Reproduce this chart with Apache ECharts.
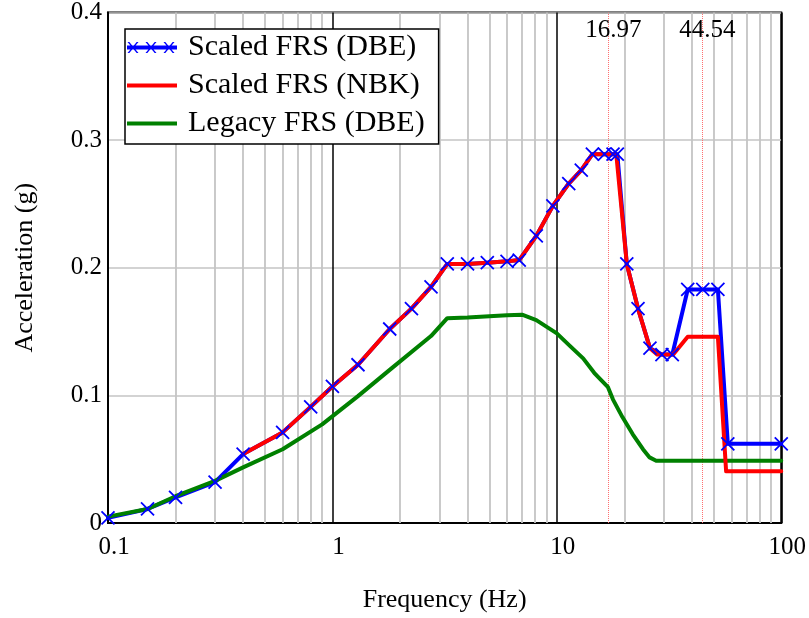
<!DOCTYPE html>
<html>
<head>
<meta charset="utf-8">
<script src="https://cdn.jsdelivr.net/npm/echarts@6/dist/echarts.min.js"></script>
<style>html,body{margin:0;padding:0;background:#fff}#c{width:809px;height:618px}</style>
</head>
<body>
<div id="c"></div>
<script>
// Scaled FRS (DBE)
const dbeFreq = [0.1,0.15,0.2,0.3,0.4,0.6,0.8,1.0,1.3,1.8,2.25,2.75,3.25,4.0,4.9,6.0,6.8,8.1,9.6,11.3,12.85,14.4,16.3,17.8,18.6,20.5,23,26,29.4,32.7,38.3,44.7,52.2,57.8,100];
const dbeAcc  = [0.004,0.011,0.020,0.032,0.054,0.071,0.091,0.107,0.124,0.152,0.168,0.185,0.203,0.203,0.204,0.205,0.206,0.225,0.2485,0.266,0.2765,0.289,0.289,0.289,0.289,0.203,0.168,0.137,0.132,0.132,0.183,0.183,0.183,0.062,0.062];
// Scaled FRS (NBK)
const nbkFreq = [0.4,0.6,0.8,1.0,1.3,1.8,2.25,2.75,3.25,4.0,4.9,6.0,6.8,8.1,9.6,11.3,12.85,14.4,18.4,20.5,23,26,28,33,38.3,52.2,56.8,100];
const nbkAcc  = [0.054,0.071,0.091,0.107,0.124,0.152,0.168,0.185,0.203,0.203,0.204,0.205,0.206,0.225,0.2485,0.266,0.2765,0.289,0.289,0.203,0.168,0.137,0.132,0.132,0.146,0.146,0.0405,0.0405];
// Legacy FRS (DBE)
const legFreq = [0.1,0.15,0.2,0.3,0.4,0.6,0.9,1.3,1.8,2.75,3.25,4,5,6,7,8.1,10,11.4,13.1,14.7,16.9,17.8,19.6,21.8,24.2,25.9,27.7,100];
const legAcc  = [0.005,0.011,0.021,0.033,0.0436,0.0578,0.0773,0.0994,0.120,0.1465,0.1605,0.161,0.162,0.1628,0.1632,0.159,0.1486,0.139,0.129,0.1175,0.1064,0.0967,0.083,0.0695,0.0578,0.0514,0.0488,0.0488];

const seriesNames = ['Scaled FRS (DBE)','Scaled FRS (NBK)','Legacy FRS (DBE)'];
const minorGridFreqs = [0.2,0.3,0.4,0.5,0.6,0.7,0.8,0.9,2,3,4,5,6,7,8,9,20,30,40,50,60,70,80,90];
const markerFreqs = [16.97, 44.54];
const markerLabels = ['16.97','44.54'];
const markerLabelAcc = 0.386;
const yTicks = [0,0.1,0.2,0.3,0.4];

const zip = (a,b) => a.map((v,i)=>[v,b[i]]);
const FONT = 'Liberation Serif';

// legend icons (box 0..50 x 0..12)
function xMark(cx){
  return `M${cx-5.5},0.5L${cx-3.7},0.5L${cx+5.5},11.5L${cx+3.7},11.5Z` +
         `M${cx+3.7},0.5L${cx+5.5},0.5L${cx-3.7},11.5L${cx-5.5},11.5Z`;
}
const boxPts = 'M0,0L0.01,0L0,0.01ZM0,12L0.01,12L0,11.99Z';
const lineIcon = 'path://' + boxPts + 'M0,4L50,4L50,8L0,8Z';
const blueIcon = lineIcon + xMark(6) + xMark(24) + xMark(42);

const chart = echarts.init(document.getElementById('c'), null, {renderer:'canvas'});
const option = {
  animation: false,
  backgroundColor: '#fff',
  textStyle: {fontFamily: FONT},
  grid: {left:108, right:27, top:12.5, bottom:92, show:true, borderColor:'#000', borderWidth:2, backgroundColor:'transparent'},
  legend: {
    orient:'vertical', left:125, top:29,
    backgroundColor:'#fff', borderColor:'#000', borderWidth:1.5,
    padding:[2,14,4,2], itemGap:5, itemWidth:50, itemHeight:12,
    textStyle:{fontFamily:FONT, fontSize:30, color:'#000', lineHeight:33, padding:[0,0,0,6]},
    data:[{name:seriesNames[0], icon:blueIcon},{name:seriesNames[1], icon:lineIcon},{name:seriesNames[2], icon:lineIcon}]
  },
  xAxis: {
    type:'log', logBase:10, min:0.1, max:100,
    name:'Frequency (Hz)', nameLocation:'middle', nameGap:64,
    nameTextStyle:{fontFamily:FONT, fontSize:26, color:'#000'},
    axisLine:{show:true, lineStyle:{color:'#000', width:2}},
    axisTick:{show:false},
    axisLabel:{fontFamily:FONT, fontSize:25, color:'#000', margin:12, padding:[0,0,0,12],
      formatter: v => String(v)},
    splitLine:{show:true, lineStyle:{color:'#000', width:1.5}},
    minorTick:{show:false}, minorSplitLine:{show:false}
  },
  yAxis: {
    type:'value', min:yTicks[0], max:yTicks[yTicks.length-1], interval:0.1,
    name:'Acceleration (g)', nameLocation:'middle', nameGap:70,
    nameTextStyle:{fontFamily:FONT, fontSize:26, color:'#000'},
    axisLine:{show:true, lineStyle:{color:'#000', width:2}},
    axisTick:{show:false},
    axisLabel:{fontFamily:FONT, fontSize:25, color:'#000', margin:6,
      formatter: v => (v===0?'0':String(Math.round(v*10)/10))},
    splitLine:{show:true, lineStyle:{color:'#c4c4c4', width:1.5}}
  },
  series: [
    {
      name: seriesNames[0], type:'line', z:2, symbol:'none',
      data: zip(dbeFreq, dbeAcc),
      lineStyle:{color:'#0000ff', width:4, join:'round', cap:'round'},
      itemStyle:{color:'#0000ff'},
      markLine:{
        silent:true, symbol:'none', z:1, animation:false,
        label:{show:false},
        lineStyle:{color:'#c4c4c4', width:1.8, type:'solid'},
        data: minorGridFreqs.map(f=>({xAxis:f}))
      }
    },
    {
      name: seriesNames[2], type:'line', z:3, symbol:'none',
      data: zip(legFreq, legAcc),
      lineStyle:{color:'#008000', width:4, join:'round', cap:'round'},
      itemStyle:{color:'#008000'},
      markLine:{
        silent:true, symbol:'none', z:1.5, animation:false,
        label:{show:false},
        lineStyle:{color:'#ff7070', width:1, type:'dotted'},
        data: markerFreqs.map(f=>({xAxis:f}))
      }
    },
    {
      name: seriesNames[1], type:'line', z:4, symbol:'none',
      data: zip(nbkFreq, nbkAcc),
      lineStyle:{color:'#ff0000', width:4, join:'round', cap:'round'},
      itemStyle:{color:'#ff0000'}
    },
    {
      name: seriesNames[0], type:'scatter', z:5,
      data: zip(dbeFreq, dbeAcc),
      symbol:'path://M0,0L10,10M10,0L0,10', symbolSize:13,
      itemStyle:{color:'rgba(0,0,0,0)', borderColor:'#0000ff', borderWidth:1.8, opacity:1},
      markPoint:{
        silent:true, symbol:'circle', symbolSize:1,
        itemStyle:{color:'rgba(0,0,0,0)'},
        label:{show:true, position:'inside', offset:[5,0], fontFamily:FONT, fontSize:25, color:'#000'},
        data: markerFreqs.map((f,i)=>({coord:[f, markerLabelAcc], value:markerLabels[i],
          label:{formatter:markerLabels[i]}}))
      }
    }
  ]
};
chart.setOption(option);
</script>
</body>
</html>
